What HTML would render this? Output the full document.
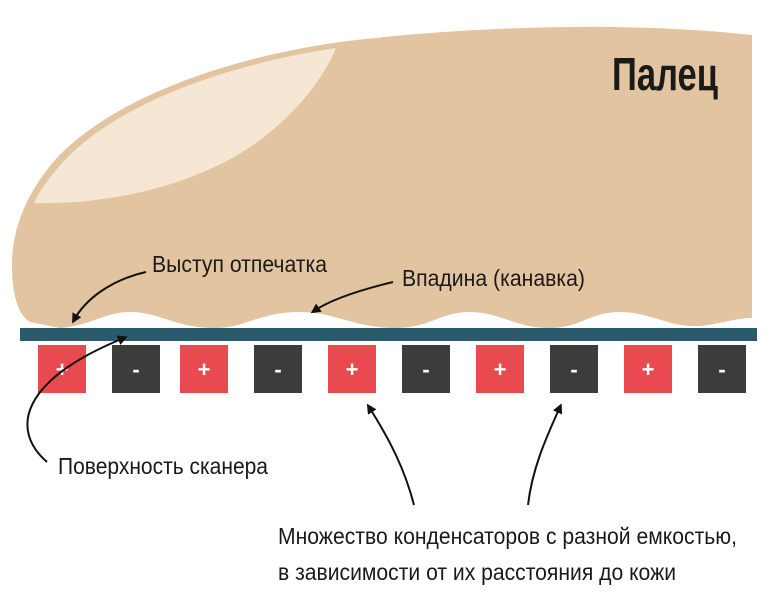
<!DOCTYPE html>
<html><head><meta charset="utf-8"><style>
html,body{margin:0;padding:0;background:#fff;width:770px;height:592px;overflow:hidden}
text{font-family:"Liberation Sans",sans-serif;fill:#1a1a1a}
</style></head><body>
<svg width="770" height="592" viewBox="0 0 770 592" xmlns="http://www.w3.org/2000/svg">
<defs><marker id="a" markerWidth="10" markerHeight="10" refX="6" refY="5" orient="auto" markerUnits="userSpaceOnUse"><path d="M0,0 L10,5 L0,10 Z" fill="#111"/></marker></defs>
<path d="M752,35 C620,20 450,28 340,42 C200,62 100,110 55,160 C25,195 12,230 12,265 C12,295 18,315 30,322 L60,328 C90,326 105,312 130,312 C160,312 175,328 215,328 C245,328 260,312 300,312 C335,312 355,328 395,328 C430,328 440,312 470,312 C500,312 515,328 550,328 C580,328 590,312 620,312 C650,312 670,328 700,326 C720,324 735,318 752,318 Z" fill="#e3c4a0"/>
<path d="M336,48 C205,68 110,112 65,160 C50,176 40,190 34,203 C110,205 200,185 260,140 C300,110 325,75 336,48 Z" fill="#f6e6d4"/>
<rect x="20" y="328" width="737" height="13" fill="#2a5a6b"/>
<g font-size="22" font-weight="bold" text-anchor="middle">
<rect x="38" y="345" width="48" height="48" fill="#e84a4f"/><text x="62" y="377" style="fill:#fff">+</text>
<rect x="112" y="345" width="48" height="48" fill="#3c3c3c"/><text x="136" y="377" style="fill:#fff">-</text>
<rect x="180" y="345" width="48" height="48" fill="#e84a4f"/><text x="204" y="377" style="fill:#fff">+</text>
<rect x="254" y="345" width="48" height="48" fill="#3c3c3c"/><text x="278" y="377" style="fill:#fff">-</text>
<rect x="328" y="345" width="48" height="48" fill="#e84a4f"/><text x="352" y="377" style="fill:#fff">+</text>
<rect x="402" y="345" width="48" height="48" fill="#3c3c3c"/><text x="426" y="377" style="fill:#fff">-</text>
<rect x="476" y="345" width="48" height="48" fill="#e84a4f"/><text x="500" y="377" style="fill:#fff">+</text>
<rect x="550" y="345" width="48" height="48" fill="#3c3c3c"/><text x="574" y="377" style="fill:#fff">-</text>
<rect x="624" y="345" width="48" height="48" fill="#e84a4f"/><text x="648" y="377" style="fill:#fff">+</text>
<rect x="698" y="345" width="48" height="48" fill="#3c3c3c"/><text x="722" y="377" style="fill:#fff">-</text>
</g>
<g fill="none" stroke="#111" stroke-width="2">
<path d="M146,272 C110,280 85,300 74,320" marker-end="url(#a)"/>
<path d="M393,282 C360,290 330,300 314,311" marker-end="url(#a)"/>
<path d="M47,462 C10,430 20,380 124,338" marker-end="url(#a)"/>
<path d="M414,505 C405,470 390,440 369,407" marker-end="url(#a)"/>
<path d="M528,505 C532,470 545,440 560,407" marker-end="url(#a)"/>
</g>
<text x="612" y="90" font-size="46" font-weight="bold" textLength="106" lengthAdjust="spacingAndGlyphs">Палец</text>
<text x="152" y="272" font-size="23" textLength="175" lengthAdjust="spacingAndGlyphs">Выступ отпечатка</text>
<text x="402" y="286" font-size="23" textLength="183" lengthAdjust="spacingAndGlyphs">Впадина (канавка)</text>
<text x="58" y="474" font-size="23" textLength="210" lengthAdjust="spacingAndGlyphs">Поверхность сканера</text>
<text x="278" y="544" font-size="23" textLength="459" lengthAdjust="spacingAndGlyphs">Множество конденсаторов с разной емкостью,</text>
<text x="278" y="580" font-size="23" textLength="398" lengthAdjust="spacingAndGlyphs">в зависимости от их расстояния до кожи</text>
</svg>
</body></html>
